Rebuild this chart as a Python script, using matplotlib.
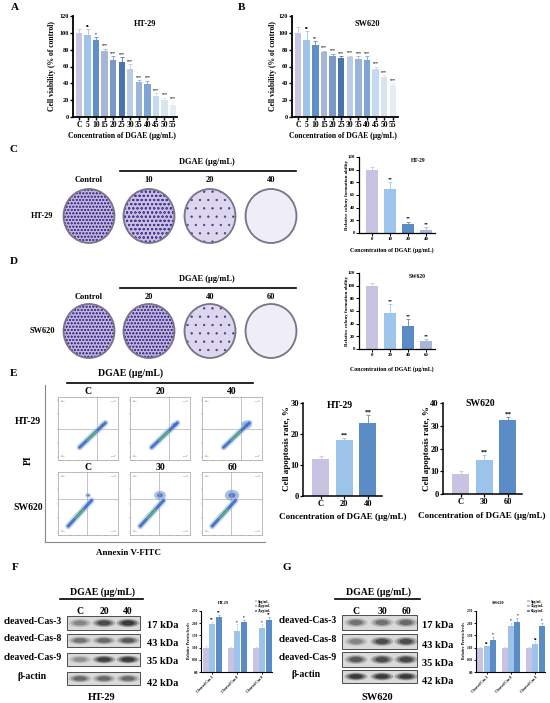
import numpy as np
import matplotlib
matplotlib.use('Agg')
import matplotlib.pyplot as plt
from matplotlib.patches import Ellipse, Rectangle

plt.rcParams['font.family'] = ['Liberation Serif', 'DejaVu Serif']
plt.rcParams['font.weight'] = 'bold'
plt.rcParams['axes.labelweight'] = 'bold'
plt.rcParams['hatch.linewidth'] = 0.45

W, H = 550, 703

# ---------------- data ----------------
via_labels = ['C', '5', '10', '15', '20', '25', '30', '35', '40', '45', '50', '55']
ht29_via = [100, 97, 92, 78, 68, 65, 57, 41, 39, 25, 20, 14]
ht29_via_err = [5, 8, 3, 3, 4, 6, 6, 3, 4, 3, 3, 4]
ht29_via_sig = ['', 'ns', '*', '***', '***', '***', '***', '***', '***', '***', '***', '***']
sw620_via = [100, 92, 86, 77, 73, 70, 71, 69, 68, 57, 48, 38]
sw620_via_err = [7, 10, 4, 2, 2, 2, 2, 3, 4, 3, 2, 2]
sw620_via_sig = ['', 'ns', '**', '***', '***', '***', '***', '***', '***', '***', '***', '***']
via_colors = ['#c8c4e4', '#9ec4ea', '#5f8fc8', '#a7b5d8', '#7d98c6', '#4a74ac',
              '#b9cce8', '#9ab4dc', '#7fa5d6', '#c3daf0', '#d8e4f0', '#e6ecf4']

col_ht_labels = ['0', '10', '20', '40']
col_ht = [100, 70, 15, 5]
col_ht_err = [4, 11, 3, 4]
col_sw_labels = ['0', '20', '40', '60']
col_sw = [100, 57, 37, 12]
col_sw_err = [4, 14, 10, 4]
col_sig = ['', '**', '**', '**']
col_colors = ['#c9c3e3', '#9ec6ec', '#5a8bc4', '#a8b6d8']

plate_ht_doses = ['Control', '10', '20', '40']
plate_sw_doses = ['Control', '20', '40', '60']
plate_ht_density = [5, 4, 2, 0]
plate_sw_density = [5, 5, 2, 0]

apo_ht_labels = ['C', '20', '40']
apo_ht = [12, 18, 23.5]
apo_ht_err = [1, 0.6, 2.5]
apo_sw_labels = ['C', '30', '60']
apo_sw = [9, 15, 32.5]
apo_sw_err = [1, 2, 1.2]
apo_sig = ['', '**', '**']
apo_colors = ['#c8c3e3', '#9cc3ea', '#5b8cc5']

flow_ht_doses = ['C', '20', '40']
flow_sw_doses = ['C', '30', '60']
flow_ht_cluster = [0.2, 0.35, 0.6]
flow_sw_cluster = [0.3, 0.65, 0.8]

blot_rows = ['cleaved-Cas-3', 'cleaved-Cas-8', 'cleaved-Cas-9', 'β-actin']
blot_kda = ['17 kDa', '43 kDa', '35 kDa', '42 kDa']
blot_ht = [[0.35, 0.7, 0.85], [0.45, 0.5, 0.6], [0.3, 0.8, 0.85], [0.5, 0.5, 0.5]]
blot_sw = [[0.45, 0.45, 0.5], [0.35, 0.7, 0.7], [0.6, 0.7, 0.75], [0.85, 0.85, 0.85]]

prot_labels = ['Cleaved Cas-3', 'Cleaved Cas-8', 'Cleaved Cas-9']
prot_ht_legend = ['0μg/mL', '20μg/mL', '40μg/mL']
prot_sw_legend = ['0μg/mL', '30μg/mL', '60μg/mL']
prot_ht = [[1.0, 1.95, 2.25], [1.0, 1.7, 2.05], [1.0, 1.8, 2.15]]
prot_ht_err = [[0.05, 0.1, 0.08], [0.02, 0.25, 0.1], [0.03, 0.15, 0.12]]
prot_ht_sig = [['', '**', '**'], ['', '*', '*'], ['', '*', '**']]
prot_sw = [[1.0, 1.05, 1.3], [1.0, 1.9, 2.05], [1.0, 1.15, 1.9]]
prot_sw_err = [[0.02, 0.03, 0.15], [0.02, 0.12, 0.15], [0.02, 0.12, 0.1]]
prot_sw_sig = [['', 'ns', '*'], ['', '*', '*'], ['', 'ns', '*']]
prot_colors = ['#c9c3e3', '#9dc3ea', '#5a8cc6']

# ---------------- helpers ----------------
fig = plt.figure(figsize=(W / 100, H / 100), dpi=100)
# canvas for free text, plates and blots; on top of the other axes, transparent
cv = fig.add_axes([0, 0, 1, 1])
cv.set_xlim(0, W)
cv.set_ylim(H, 0)
cv.axis('off')
cv.set_zorder(10)
cv.patch.set_alpha(0)


def px_axes(x0, y0, x1, y1):
    return fig.add_axes([x0 / W, 1 - y1 / H, (x1 - x0) / W, (y1 - y0) / H])


def txt(x, y, s, fs, **kw):
    kw.setdefault('ha', 'center')
    kw.setdefault('va', 'center')
    cv.text(x, y, s, fontsize=fs, fontweight='bold', **kw)


def style_ax(ax, fs, lw=1.0, tl=2):
    for s in ['top', 'right']:
        ax.spines[s].set_visible(False)
    for s in ['left', 'bottom']:
        ax.spines[s].set_linewidth(lw)
    ax.tick_params(labelsize=fs, width=lw * 0.8, length=tl, pad=1)
    for lab in ax.get_xticklabels() + ax.get_yticklabels():
        lab.set_fontweight('bold')


def bar_panel(ax, labels, vals, errs, colors, sig, ymax, step, fs, sig_fs, xlim, width=0.72, lw=1.0):
    x = np.arange(len(vals))
    ax.bar(x, vals, width, color=colors, zorder=2)
    for xi, v, e, c in zip(x, vals, errs, colors):
        ax.errorbar(xi, v, yerr=[[0], [e]], ecolor=c, elinewidth=0.6, capsize=1.3,
                    capthick=0.6, zorder=1)
    for xi, v, e, s in zip(x, vals, errs, sig):
        if s:
            ax.text(xi, v + e + ymax * 0.01, s, ha='center', va='bottom', fontsize=sig_fs)
    ax.set_xticks(x)
    ax.set_xticklabels(labels)
    ax.set_xlim(*xlim)
    ax.set_ylim(0, ymax)
    ax.set_yticks(np.arange(0, ymax + 1e-9, step))
    style_ax(ax, fs, lw)


# ---------------- A / B ----------------
axA = px_axes(73, 16, 177, 117)
bar_panel(axA, via_labels, ht29_via, ht29_via_err, via_colors, ht29_via_sig, 120, 20, 5.5, 2.8,
          (-0.7, 11.47), width=0.75, lw=1.3)
axA.tick_params(axis='y', labelsize=4.5)
axB = px_axes(292, 16, 398, 117)
bar_panel(axB, via_labels, sw620_via, sw620_via_err, via_colors, sw620_via_sig, 120, 20, 5.5, 2.8,
          (-0.7, 11.6), width=0.75, lw=1.3)
axB.tick_params(axis='y', labelsize=4.5)
txt(15, 8, 'A', 8)
txt(241, 8, 'B', 8)
txt(145, 24, 'HT-29', 6)
txt(367, 24, 'SW620', 6)
txt(52, 66, 'Cell viability (% of control)', 5.5, rotation=90)
txt(273, 66, 'Cell viability (% of control)', 5.5, rotation=90)
txt(122, 136, 'Concentration of DGAE (μg/mL)', 5.5)
txt(343, 136, 'Concentration of DGAE (μg/mL)', 5.5)


# ---------------- C / D plates ----------------
def draw_plates(yc, doses, density, y_dose, y_line, y_title, cell):
    xs = [89, 149, 210, 271]
    txt(207, y_title, 'DGAE (μg/mL)', 6)
    cv.plot([120, 296], [y_line, y_line], color='black', lw=1.2)
    for x, d, n in zip(xs, doses, density):
        txt(x, y_dose, d, 6)
        shade = ['#efedf6', '#e6e2f1', '#ddd7ee', '#d2cae8', '#c9bfe4', '#c0b5df'][n]
        h = ('o' * n) if n >= 3 else ('.' * n if n else None)
        cv.add_patch(Ellipse((x, yc), 50, 53, facecolor=shade, edgecolor='#4b3b8f',
                             hatch=h, lw=0.1))
        cv.add_patch(Ellipse((x, yc), 51, 54, facecolor='none', edgecolor='#77758a', lw=1.3))
    txt(42, yc, cell, 6)


txt(14, 149, 'C', 8)
draw_plates(216, plate_ht_doses, plate_ht_density, 180, 171, 162, 'HT-29')
txt(14, 262, 'D', 8)
draw_plates(331, plate_sw_doses, plate_sw_density, 297, 288, 279, 'SW620')

axC = px_axes(359, 157, 435, 233)
bar_panel(axC, col_ht_labels, col_ht, col_ht_err, col_colors, col_sig, 120, 20, 3.5, 3.5,
          (-0.72, 3.5), width=0.68, lw=0.9)
axD = px_axes(359, 273, 435, 349)
bar_panel(axD, col_sw_labels, col_sw, col_sw_err, col_colors, col_sig, 120, 20, 3.5, 3.5,
          (-0.72, 3.5), width=0.68, lw=0.9)
txt(418, 161, 'HT-29', 4)
txt(417, 277, 'SW620', 4)
txt(347, 195, 'Relative colony formation ability', 3.6, rotation=90)
txt(347, 311, 'Relative colony formation ability', 3.6, rotation=90)
txt(392, 250, 'Concentration of DGAE (μg/mL)', 4.2)
txt(392, 369, 'Concentration of DGAE (μg/mL)', 4.2)


# ---------------- E flow ----------------
def draw_flow(ax, quad, start, end, cluster, cpos):
    ax.set_xlim(0, 1)
    ax.set_ylim(0, 1)
    ax.axvline(quad[0], color='#9a9a9a', lw=0.4)
    ax.axhline(quad[1], color='#9a9a9a', lw=0.4)
    sx, sy = start
    ex, ey = end
    ax.plot([sx, ex], [sy, ey], color='#9fbbe9', lw=4.5, alpha=0.6, solid_capstyle='round')
    ax.plot([sx, ex], [sy, ey], color='#3566c0', lw=2.2, alpha=0.85, solid_capstyle='round')
    gx = [sx + (ex - sx) * 0.3, sx + (ex - sx) * 0.65]
    gy = [sy + (ey - sy) * 0.3, sy + (ey - sy) * 0.65]
    ax.plot(gx, gy, color='#5cbf5c', lw=1.3, alpha=0.9)
    ax.add_patch(Ellipse(cpos, 0.3 * cluster, 0.22 * cluster, color='#3f6fcf', alpha=0.45, lw=0))
    ax.add_patch(Ellipse(cpos, 0.15 * cluster, 0.1 * cluster, color='#2a57b0', alpha=0.6, lw=0))
    ax.set_xticks(np.linspace(0.05, 0.95, 7))
    ax.set_yticks(np.linspace(0.05, 0.95, 5))
    ax.set_xticklabels([])
    ax.set_yticklabels([])
    ax.tick_params(length=1, width=0.3, color='#777')
    for s in ax.spines.values():
        s.set_linewidth(0.4)
        s.set_color('#888')
    for (qx, qy, ha, va) in [(0.04, 0.96, 'left', 'top'), (0.96, 0.96, 'right', 'top'),
                             (0.04, 0.04, 'left', 'bottom'), (0.96, 0.04, 'right', 'bottom')]:
        ax.text(qx, qy, 'Q\n0.0%', fontsize=1.6, color='#666', ha=ha, va=va, fontweight='normal')


txt(14, 374, 'E', 8)
txt(130, 373, 'DGAE (μg/mL)', 7)
cv.plot([67, 253], [383, 383], color='black', lw=1.2)
cv.plot([45, 45], [385, 542], color='#888', lw=0.8)
cv.plot([45, 265], [542, 542], color='#888', lw=0.8)
flow_x = [(58, 118), (130, 190), (202, 262)]
for (x0, x1), d, c in zip(flow_x, flow_ht_doses, flow_ht_cluster):
    txt((x0 + x1) / 2, 391, d, 7)
    ax = px_axes(x0, 397, x1, 460)
    draw_flow(ax, (0.65, 0.5), (0.36, 0.2), (0.79, 0.59), c, (0.74, 0.56))
for (x0, x1), d, c in zip(flow_x, flow_sw_doses, flow_sw_cluster):
    txt((x0 + x1) / 2, 467, d, 7)
    ax = px_axes(x0, 472, x1, 535)
    draw_flow(ax, (0.48, 0.57), (0.17, 0.14), (0.56, 0.55), c, (0.5, 0.63))
txt(28, 422, 'HT-29', 7)
txt(28, 507, 'SW620', 7)
txt(28, 460, 'PI', 7, rotation=90)
txt(128, 553, 'Annexin V-FITC', 6.5)

axE1 = px_axes(303, 403, 382, 496)
bar_panel(axE1, apo_ht_labels, apo_ht, apo_ht_err, apo_colors, apo_sig, 30, 10, 6, 5,
          (-0.75, 2.6), width=0.72, lw=1.1)
axE2 = px_axes(443, 403, 522, 494)
bar_panel(axE2, apo_sw_labels, apo_sw, apo_sw_err, apo_colors, apo_sig, 40, 10, 6, 5,
          (-0.75, 2.6), width=0.72, lw=1.1)
txt(340, 406, 'HT-29', 7)
txt(480, 404, 'SW620', 7)
txt(287, 449, 'Cell apoptosis rate, %', 6.5, rotation=90)
txt(427, 449, 'Cell apoptosis rate, %', 6.5, rotation=90)
txt(343, 517, 'Concentration of DGAE (μg/mL)', 6.5)
txt(482, 516, 'Concentration of DGAE (μg/mL)', 6.5)


# ---------------- F / G blots ----------------
def draw_blot(x0, x1, rows_y, lanes, intens, doses, label_x, kda_x, cell, cell_x):
    txt((x0 + x1) / 2 - 1, 592, 'DGAE (μg/mL)', 7)
    cv.plot([x0 - 7, x1 + 3], [599, 599], color='black', lw=1.2)
    for lx, d in zip(lanes, doses):
        txt(lx, 612, d, 7)
    for (ya, yb), row, name, kda in zip(rows_y, intens, blot_rows, blot_kda):
        cv.add_patch(Rectangle((x0, ya), x1 - x0, yb - ya, facecolor='#dadada',
                               edgecolor='#333', lw=0.6))
        yc = (ya + yb) / 2
        for lx, v in zip(lanes, row):
            for sc, a in [(1.0, 0.3), (0.78, 0.45), (0.55, 0.7)]:
                cv.add_patch(Ellipse((lx, yc), 23 * sc, (yb - ya) * 0.6 * sc,
                                     facecolor='#151515', alpha=v * a, lw=0))
        if name == 'β-actin':
            txt(label_x - 45, yc - 2, name, 7, ha='left')
        else:
            txt(label_x, yc - 2, name, 7, ha='right')
        txt(kda_x, yb - 4 if name != 'β-actin' else yb - 2, kda, 7.5, ha='left')
    txt(cell_x, 697, cell, 7.5)


txt(15, 567, 'F', 8)
draw_blot(67, 140, [(616, 630), (634, 647), (653, 666), (672, 685)], [80, 104, 128],
          blot_ht, apo_ht_labels, 62, 147, 'HT-29', 102)
txt(287, 567, 'G', 8)
draw_blot(342, 417, [(615, 630), (634, 649), (652, 667), (670, 683)], [356, 382, 406],
          blot_sw, apo_sw_labels, 337, 422, 'SW620', 377)


def prot_panel(ax, vals, errs, sig, legend):
    x = np.arange(len(vals))
    offs = [-0.26, 0, 0.26]
    for j in range(3):
        v = [r[j] for r in vals]
        e = [r[j] for r in errs]
        ax.bar(x + offs[j], v, 0.24, color=prot_colors[j], zorder=2, label=legend[j])
        ax.errorbar(x + offs[j], v, yerr=[[0] * 3, e], fmt='none', ecolor=prot_colors[j],
                    elinewidth=0.4, capsize=0.8, capthick=0.4, zorder=1)
        for xi, vi, ei, s in zip(x, v, e, [r[j] for r in sig]):
            if s:
                ax.text(xi + offs[j], vi + ei + 0.02, s, ha='center', va='bottom', fontsize=2.6)
    ax.set_ylim(0, 2.5)
    ax.set_yticks([0, 0.5, 1.0, 1.5, 2.0, 2.5])
    ax.set_yticklabels(['0.0', '0.50', '1.00', '1.50', '2.00', '2.50'])
    ax.set_xlim(-0.44, 2.4)
    ax.set_xticks(x)
    ax.set_xticklabels(prot_labels, rotation=45, ha='right', rotation_mode='anchor')
    style_ax(ax, 2.6, 0.8, 1.2)
    ax.legend(loc='lower right', bbox_to_anchor=(1.02, 0.93), fontsize=2.4, frameon=False,
              handlelength=0.7, handleheight=0.6, handletextpad=0.4, labelspacing=0.25,
              borderpad=0.1)


axF = px_axes(201, 611, 272, 672)
prot_panel(axF, prot_ht, prot_ht_err, prot_ht_sig, prot_ht_legend)
axG = px_axes(476, 611, 545, 672)
prot_panel(axG, prot_sw, prot_sw_err, prot_sw_sig, prot_sw_legend)
txt(223, 603, 'HT-29', 3)
txt(498, 603, 'SW620', 3)
txt(189, 641, 'Relative Protein levels', 2.8, rotation=90)
txt(464, 641, 'Relative Protein levels', 2.8, rotation=90)

fig.savefig('out.png', dpi=100)
